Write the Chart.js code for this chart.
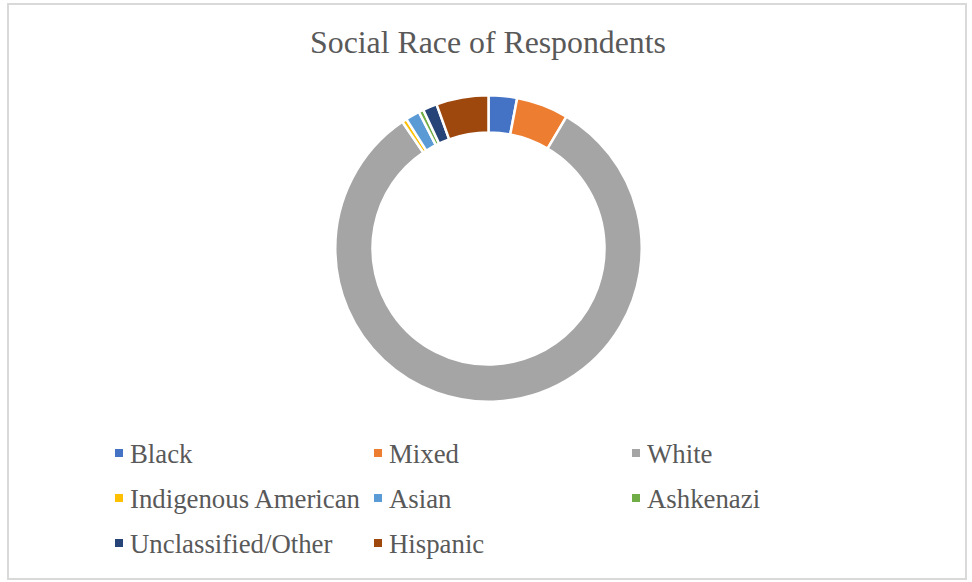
<!DOCTYPE html>
<html>
<head>
<meta charset="utf-8">
<script src="https://cdn.jsdelivr.net/npm/chart.js@4/dist/chart.umd.min.js"></script>
<style>
  html, body { margin: 0; padding: 0; background: #ffffff; }
  body { width: 972px; height: 582px; position: relative; overflow: hidden; }
  #frame { position: absolute; left: 7px; top: 3px; width: 956px; height: 573px; border: 2px solid #d9d9d9; box-sizing: content-box; }
  #title { position: absolute; left: 0; width: 976px; top: 27.4px; text-align: center; font-family: "Liberation Serif", "Times New Roman", serif; font-size: 31.8px; line-height: 31.8px; color: #595959; white-space: nowrap; }
  #chartBox { position: absolute; left: 334px; top: 94px; width: 309px; height: 309px; }
  .lg { position: absolute; font-family: "Liberation Serif", "Times New Roman", serif; font-size: 26.8px; line-height: 26.8px; color: #595959; white-space: nowrap; }
  .lg .sw { position: absolute; left: 0; top: 8.4px; width: 8px; height: 8px; }
  .lg .tx { position: absolute; left: 15px; top: 0; }
</style>
</head>
<body>
<div id="frame"></div>
<div id="title"></div>
<div id="chartBox"><canvas id="c" width="309" height="309"></canvas></div>
<div id="legend"></div>
<script>
const titleText = "Social Race of Respondents";
const categories = ["Black", "Mixed", "White", "Indigenous American", "Asian", "Ashkenazi", "Unclassified/Other", "Hispanic"];
const counts = [6, 11, 164, 1, 3, 1, 3, 11];
const colors = ["#4472C4", "#ED7D31", "#A5A5A5", "#FFC000", "#5B9BD5", "#70AD47", "#264478", "#9E480E"];

document.getElementById("title").textContent = titleText;

new Chart(document.getElementById("c"), {
  type: "doughnut",
  data: {
    labels: categories,
    datasets: [{
      data: counts,
      backgroundColor: colors,
      borderColor: "#ffffff",
      borderWidth: 2.5,
      hoverOffset: 0
    }]
  },
  options: {
    responsive: false,
    maintainAspectRatio: false,
    animation: false,
    cutout: "75.7%",
    layout: { padding: 0 },
    plugins: {
      legend: { display: false },
      tooltip: { enabled: false },
      title: { display: false }
    }
  }
});

// Legend laid out in a 3-column grid
const colX = [115, 374, 632];
const rowTop = [440.9, 485.9, 530.9];
const legend = document.getElementById("legend");
categories.forEach((name, i) => {
  const item = document.createElement("div");
  item.className = "lg";
  item.style.left = colX[i % 3] + "px";
  item.style.top = rowTop[Math.floor(i / 3)] + "px";
  const sw = document.createElement("div");
  sw.className = "sw";
  sw.style.background = colors[i];
  const tx = document.createElement("span");
  tx.className = "tx";
  tx.textContent = name;
  item.appendChild(sw);
  item.appendChild(tx);
  legend.appendChild(item);
});
</script>
</body>
</html>
